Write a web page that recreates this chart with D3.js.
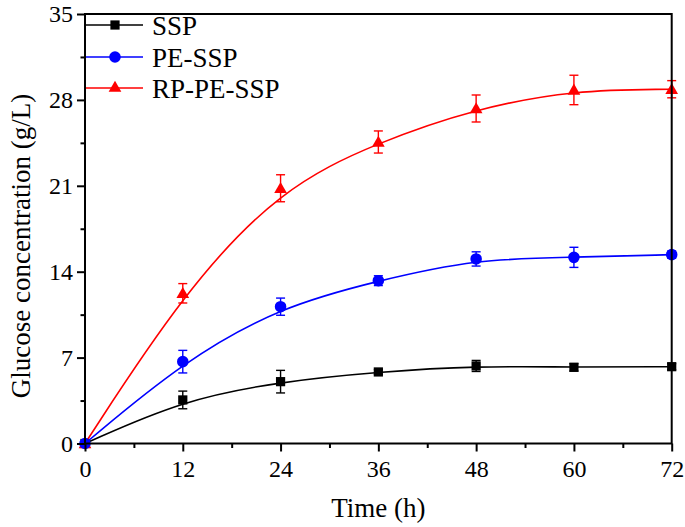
<!DOCTYPE html>
<html>
<head>
<meta charset="utf-8">
<script src="https://cdn.jsdelivr.net/npm/d3@7"></script>
<style>
  html, body { margin: 0; padding: 0; background: #fff; }
  svg { display: block; font-family: "Liberation Serif", "Times New Roman", serif; }
</style>
</head>
<body>
<svg id="chart" width="685" height="527"></svg>
<script>
// ---- data ----
const times = [0, 12, 24, 36, 48, 60, 72];
const xTicks = [0, 12, 24, 36, 48, 60, 72];
const yTicks = [0, 7, 14, 21, 28, 35];

const sspValues   = [0, 3.55, 5.04, 5.83, 6.32, 6.21, 6.26];
const sspErrors   = [0.15, 0.72, 0.92, 0.2, 0.45, 0.3, 0.25];

const peValues    = [0, 6.67, 11.15, 13.27, 15.04, 15.17, 15.39];
const peErrors    = [0.15, 0.92, 0.7, 0.4, 0.58, 0.82, 0.3];

const rpValues    = [0, 12.24, 20.8, 24.57, 27.3, 28.81, 28.87];
const rpErrors    = [0.15, 0.79, 1.1, 0.9, 1.1, 1.2, 0.7];

const seriesNames  = ["SSP", "PE-SSP", "RP-PE-SSP"];
const seriesColors = ["#000000", "#0000ff", "#ff0000"];
const seriesShapes = ["square", "circle", "triangle"];

(function () {
// ---- layout ----
const svg = d3.select("#chart");
const mLeft = 85, mRight = 671.7, mTop = 14, mBottom = 443.5;

const x = d3.scaleLinear().domain([0, 72]).range([mLeft, mRight]);
const y = d3.scaleLinear().domain([0, 35]).range([mBottom, mTop]);

const series = [
  { name: seriesNames[0], color: seriesColors[0], shape: seriesShapes[0], v: sspValues, e: sspErrors },
  { name: seriesNames[1], color: seriesColors[1], shape: seriesShapes[1], v: peValues, e: peErrors },
  { name: seriesNames[2], color: seriesColors[2], shape: seriesShapes[2], v: rpValues, e: rpErrors }
];

function symbolPath(shape) {
  if (shape === "square") return d3.symbol(d3.symbolSquare, 85)();
  if (shape === "circle") return d3.symbol(d3.symbolCircle, 105)();
  return d3.symbol(d3.symbolTriangle, 70)();
}

const line = d3.line()
  .x((d, i) => x(times[i]))
  .y(d => y(d))
  .curve(d3.curveBasis);

// draw order: SSP, RP-PE-SSP, PE-SSP
const drawOrder = [0, 2, 1];
drawOrder.forEach(si => {
  const s = series[si];
  const g = svg.append("g");
  g.append("path")
    .attr("d", line(s.v))
    .attr("fill", "none")
    .attr("stroke", s.color)
    .attr("stroke-width", 1.6);
  // error bars
  const eb = g.selectAll(".eb").data(s.v).enter().append("g");
  eb.append("line")
    .attr("x1", (d, i) => x(times[i])).attr("x2", (d, i) => x(times[i]))
    .attr("y1", (d, i) => y(d - s.e[i])).attr("y2", (d, i) => y(d + s.e[i]))
    .attr("stroke", s.color).attr("stroke-width", 1.4);
  [-1, 1].forEach(sg => {
    eb.append("line")
      .attr("x1", (d, i) => x(times[i]) - 4.5).attr("x2", (d, i) => x(times[i]) + 4.5)
      .attr("y1", (d, i) => y(d + sg * s.e[i])).attr("y2", (d, i) => y(d + sg * s.e[i]))
      .attr("stroke", s.color).attr("stroke-width", 1.4);
  });
  // markers
  g.selectAll(".mk").data(s.v).enter().append("path")
    .attr("d", symbolPath(s.shape))
    .attr("transform", (d, i) => `translate(${x(times[i])},${y(d) + (s.shape === "triangle" ? 1 : 0)})`)
    .attr("fill", s.color);
});

// ---- axes ----
const xAxis = d3.axisBottom(x).tickValues(xTicks).tickSize(8).tickPadding(8).tickFormat(d3.format("d"));
const yAxis = d3.axisLeft(y).tickValues(yTicks).tickSize(8).tickPadding(4).tickFormat(d3.format("d"));

const xMinor = d3.axisBottom(x).tickValues(d3.range(6, 72, 12)).tickSize(4.5).tickFormat("");
const yMinor = d3.axisLeft(y).tickValues(d3.range(3.5, 35, 7)).tickSize(4.5).tickFormat("");

function styleAxis(g) {
  g.select(".domain").remove();
  g.selectAll("line").attr("stroke", "#000").attr("stroke-width", 2);
  g.selectAll("text").attr("fill", "#000").style("font-size", "24px")
    .style("font-family", "'Liberation Serif', 'Times New Roman', serif");
}

svg.append("g").attr("transform", `translate(0,${mBottom})`).call(xAxis).call(styleAxis);
svg.append("g").attr("transform", `translate(0,${mBottom})`).call(xMinor).call(styleAxis);
svg.append("g").attr("transform", `translate(${mLeft},0)`).call(yAxis).call(styleAxis);
svg.append("g").attr("transform", `translate(${mLeft},0)`).call(yMinor).call(styleAxis);

// frame
svg.append("rect")
  .attr("x", mLeft).attr("y", mTop)
  .attr("width", mRight - mLeft).attr("height", mBottom - mTop)
  .attr("fill", "none").attr("stroke", "#000").attr("stroke-width", 2);

// ---- legend ----
const legendRows = [25, 57, 88];
series.forEach((s, i) => {
  const ly = legendRows[i];
  svg.append("line")
    .attr("x1", mLeft + 1).attr("x2", 143)
    .attr("y1", ly).attr("y2", ly)
    .attr("stroke", s.color).attr("stroke-width", 1.6);
  svg.append("path")
    .attr("d", symbolPath(s.shape))
    .attr("transform", `translate(115,${ly})`)
    .attr("fill", s.color);
  svg.append("text")
    .attr("x", 152).attr("y", ly + 9.5)
    .attr("fill", "#000")
    .style("font-size", "27px")
    .text(s.name);
});

// ---- axis titles ----
svg.append("text")
  .attr("x", (mLeft + mRight) / 2).attr("y", 517)
  .attr("text-anchor", "middle")
  .style("font-size", "27px")
  .text("Time (h)");

svg.append("text")
  .attr("transform", "translate(30,246) rotate(-90)")
  .attr("text-anchor", "middle")
  .style("font-size", "27px")
  .text("Glucose concentration (g/L)");
})();
</script>
</body>
</html>
